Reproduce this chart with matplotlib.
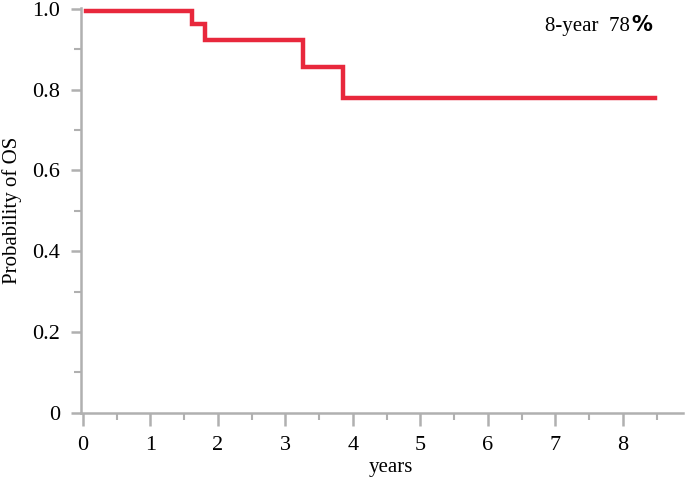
import matplotlib
import matplotlib.pyplot as plt
from matplotlib.ticker import MultipleLocator, FixedLocator

matplotlib.rcParams.update({"font.family": ["Liberation Serif", "DejaVu Serif"]})

# Kaplan-Meier step points (years, survival probability)
times = [0.05, 1.61, 1.81, 3.26, 3.85, 8.48]
surv = [0.995, 0.963, 0.923, 0.857, 0.780, 0.780]

x_ticks = [0, 1, 2, 3, 4, 5, 6, 7, 8]
y_ticks = [0, 0.2, 0.4, 0.6, 0.8, 1.0]
y_labels = ["0", "0.2", "0.4", "0.6", "0.8", "1.0"]

AXIS_GRAY = "#b0b0b0"
LINE_RED = "#e8283c"
FS = 15

fig = plt.figure(figsize=(6.85, 4.88), dpi=100)
ax = fig.add_axes([0.118, 0.154, 0.879, 0.83])

ax.step(times, surv, where="post", color=LINE_RED, lw=3.2, solid_joinstyle="miter")

ax.set_xlim(-0.03, 8.89)
ax.set_ylim(0, 1.0025)

for side in ("top", "right"):
    ax.spines[side].set_visible(False)
for side in ("left", "bottom"):
    ax.spines[side].set_color(AXIS_GRAY)
    ax.spines[side].set_linewidth(1.8)

ax.xaxis.set_major_locator(FixedLocator(x_ticks))
ax.xaxis.set_minor_locator(MultipleLocator(0.5))
ax.yaxis.set_major_locator(FixedLocator(y_ticks))
ax.set_yticklabels(y_labels)
ax.yaxis.set_minor_locator(MultipleLocator(0.1))

ax.tick_params(which="major", color=AXIS_GRAY, width=1.8, labelsize=16, pad=6)
ax.tick_params(axis="x", which="major", length=9, pad=8)
ax.tick_params(axis="y", which="major", length=7, pad=8)
ax.tick_params(which="minor", color=AXIS_GRAY, width=1.5, length=5)

fig.text(0.570, 0.022, "years", fontsize=FS, ha="center", va="bottom")
fig.text(0.017, 0.568, "Probability of OS", fontsize=FS, rotation=90, ha="center", va="center")

# annotation: the % sign is drawn in a sans face, as in the original
t = fig.text(0.796, 0.936, "8-year  78", fontsize=FS, ha="left", va="baseline")
fig.canvas.draw()
bb = t.get_window_extent()
fig.text((bb.x1 + 1) / fig.bbox.width, 0.936, "%", fontsize=FS, ha="left",
         va="baseline", family="DejaVu Sans", weight="bold")

fig.savefig("out.png", dpi=100)
